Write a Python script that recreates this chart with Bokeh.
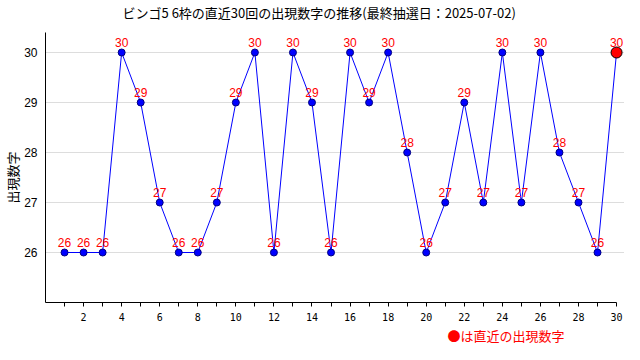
from bokeh.plotting import figure
from bokeh.models import Range1d, FixedTicker, Title, ColumnDataSource
from bokeh.embed import file_html
from bokeh.resources import INLINE
from bokeh.core.properties import value

draws = list(range(1, 31))
numbers = [26, 26, 26, 30, 29, 27, 26, 26, 27, 29, 30, 26, 30, 29, 26,
           30, 29, 30, 28, 26, 27, 29, 27, 30, 27, 30, 28, 27, 26, 30]
x_tick_labels = {i: (str(i) if i % 2 == 0 else "") for i in draws}
y_ticks = [26, 27, 28, 29, 30]
title_text = "ビンゴ5 6枠の直近30回の出現数字の推移(最終抽選日：2025-07-02)"
y_label_text = "出現数字"
legend_text = "●は直近の出現数字"

W, H = 624, 344
p = figure(width=W, height=H, output_backend="svg", toolbar_location=None,
           x_range=Range1d(0, 30.417), y_range=Range1d(25, 30.4),
           min_border_left=40, min_border_right=0, min_border_top=31, min_border_bottom=42)
p.outline_line_color = None
p.background_fill_color = "white"
p.border_fill_color = "white"

p.xgrid.grid_line_color = None
p.ygrid.grid_line_color = "#dddddd"
p.ygrid.ticker = FixedTicker(ticks=y_ticks)

p.xaxis.ticker = FixedTicker(ticks=draws)
p.xaxis.major_label_overrides = {i: t for i, t in x_tick_labels.items()}
p.xaxis.bounds = (0, 30)
p.xaxis.major_tick_out = 4
p.xaxis.major_tick_in = 0
p.xaxis.minor_tick_line_color = None
p.xaxis.axis_line_color = "black"
p.xaxis.major_tick_line_color = "black"
p.xaxis.major_label_text_font = "DejaVu Sans Mono"
p.xaxis.major_label_text_font_size = "10px"
p.xaxis.major_label_text_color = "black"
p.xaxis.major_label_standoff = 6

p.yaxis.ticker = FixedTicker(ticks=y_ticks)
p.yaxis.major_tick_out = 0
p.yaxis.major_tick_in = 0
p.yaxis.minor_tick_line_color = None
p.yaxis.axis_line_color = "black"
p.yaxis.major_label_text_font = "Liberation Sans"
p.yaxis.major_label_text_font_size = "12px"
p.yaxis.major_label_text_color = "black"
p.yaxis.major_label_standoff = 8

src = ColumnDataSource(dict(x=draws, y=numbers, t=[str(v) for v in numbers]))
p.line("x", "y", source=src, line_color="#0000ff", line_width=1)
p.scatter("x", "y", source=src, size=7, fill_color="#0000ff", line_color="#000080", line_width=1)
last = ColumnDataSource(dict(x=draws[-1:], y=numbers[-1:]))
p.scatter("x", "y", source=last, size=11, fill_color="#ff0000", line_color="black", line_width=1)
p.text("x", "y", text="t", source=src, text_color="#ff0000", text_font=value("Liberation Sans"),
       text_font_size="12px", text_align="center", text_baseline="bottom", y_offset=-6)

# spacer panel (closest to the frame) so the title sits near the top edge
p.add_layout(Title(text=" ", text_font_size="1px", standoff=8), "above")
p.add_layout(Title(text=title_text, align="left", offset=77, standoff=0,
                   text_font="Noto Sans CJK JP", text_font_size="13px",
                   text_font_style="normal", text_color="black"), "above")
p.add_layout(Title(text=y_label_text, align="left", offset=99, standoff=0,
                   text_font="Noto Sans CJK JP", text_font_size="13px",
                   text_font_style="normal", text_color="black"), "left")
p.add_layout(Title(text=legend_text, align="left", offset=402, standoff=0,
                   text_font="Noto Sans CJK JP", text_font_size="13px",
                   text_font_style="normal", text_color="#ff0000"), "below")

open("out.html", "w").write(file_html(p, INLINE))
